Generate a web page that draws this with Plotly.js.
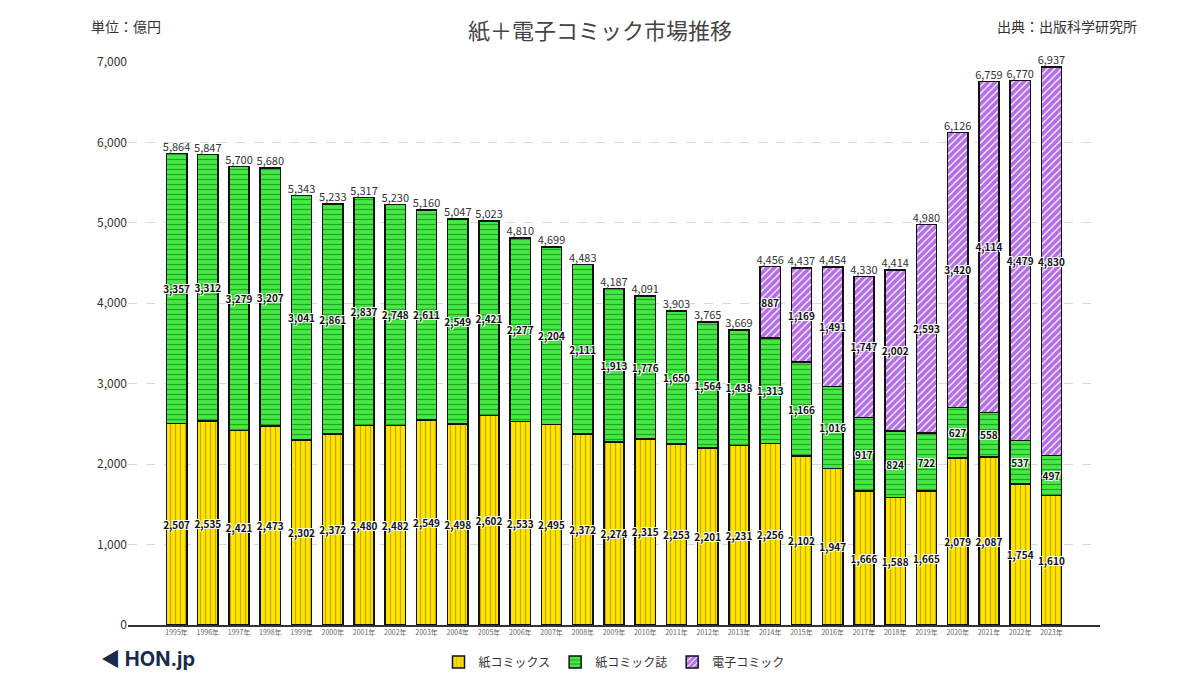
<!DOCTYPE html>
<html><head><meta charset="utf-8">
<script src="https://cdn.plot.ly/plotly-3.0.1.min.js"></script>
<style>body{margin:0;background:#fff}#chart{width:1200px;height:675px}</style>
</head><body><div id="chart"></div>
<script>
var years = [];
for (var y = 1995; y <= 2023; y++) years.push(y + "年");
var paper = [2507,2535,2421,2473,2302,2372,2480,2482,2549,2498,2602,2533,2495,2372,2274,2315,2253,2201,2231,2256,2102,1947,1666,1588,1665,2079,2087,1754,1610];
var magazine = [3357,3312,3279,3207,3041,2861,2837,2748,2611,2549,2421,2277,2204,2111,1913,1776,1650,1564,1438,1313,1166,1016,917,824,722,627,558,537,497];
var digital = [null,null,null,null,null,null,null,null,null,null,null,null,null,null,null,null,null,null,null,887,1169,1491,1747,2002,2593,3420,4114,4479,4830];
var totals = [5864,5847,5700,5680,5343,5233,5317,5230,5160,5047,5023,4810,4699,4483,4187,4091,3903,3765,3669,4456,4437,4454,4330,4414,4980,6126,6759,6770,6937];

var FONT = "Noto Sans CJK JP, Noto Sans, sans-serif";
function fmt(v) { return v == null ? "" : v.toLocaleString("en-US"); }
function bar(name, vals, fg, bg, shape) {
  return {
    type: "bar", name: name, x: years, y: vals,
    text: vals.map(fmt), textposition: "inside", insidetextanchor: "middle",
    textangle: 0, constraintext: "none",
    textfont: {family: FONT, size: 10, color: "#111", weight: "bold",
      shadow: "1px 1px 0 #fff, -1px -1px 0 #fff, 1px -1px 0 #fff, -1px 1px 0 #fff"},
    marker: {color: bg, line: {color: "#111", width: 1.5},
      pattern: {shape: shape, fgcolor: fg, bgcolor: bg, size: 5, solidity: 0.25}},
    hoverinfo: "y"
  };
}
var data = [
  bar("紙コミックス", paper, "#c9a800", "#ffe600", "|"),
  bar("紙コミック誌", magazine, "#1fa81f", "#46e846", "-"),
  bar("電子コミック", digital, "#ffffff", "#b36ee6", "/"),
  {type: "scatter", mode: "text", x: years, y: totals, text: totals.map(fmt),
   textposition: "top center", textfont: {family: FONT, size: 11, color: "#333"},
   cliponaxis: false, showlegend: false, hoverinfo: "skip"}
];
var layout = {
  width: 1200, height: 675, barmode: "stack", bargap: 0.35,
  margin: {l: 128, r: 100, t: 62, b: 50, autoexpand: false},
  uniformtext: {mode: "show", minsize: 10},
  paper_bgcolor: "#fff", plot_bgcolor: "#fff",
  font: {family: FONT, color: "#333"},
  title: {text: "紙＋電子コミック市場推移", x: 0.5, y: 0.965, font: {size: 22, color: "#444"}},
  xaxis: {tickfont: {size: 7, color: "#666"}, showline: true, linecolor: "#333", linewidth: 1.5, ticks: "", fixedrange: true},
  yaxis: {range: [0, 7000], dtick: 1000, tickformat: ",d", tickfont: {size: 12, color: "#333"},
    gridcolor: "#d8d8d8", griddash: "dash", zeroline: false, fixedrange: true},
  showlegend: true,
  legend: {orientation: "h", x: 0.5, xanchor: "center", y: -0.04, yanchor: "top", font: {size: 12},
    itemwidth: 30, traceorder: "normal"},
  annotations: [
    {text: "単位：億円", xref: "paper", yref: "paper", x: -0.04, y: 1.085, xanchor: "left", showarrow: false, font: {size: 14, color: "#333"}},
    {text: "出典：出版科学研究所", xref: "paper", yref: "paper", x: 1.04, y: 1.085, xanchor: "right", showarrow: false, font: {size: 14, color: "#333"}},
    {text: "<b>◀ HON.jp</b>", xref: "paper", yref: "paper", x: -0.03, y: -0.035, xanchor: "left", yanchor: "top", showarrow: false, font: {size: 20, color: "#1a2a4a", family: "Inter, sans-serif"}}
  ]
};
Plotly.newPlot("chart", data, layout, {displayModeBar: false});
</script></body></html>
